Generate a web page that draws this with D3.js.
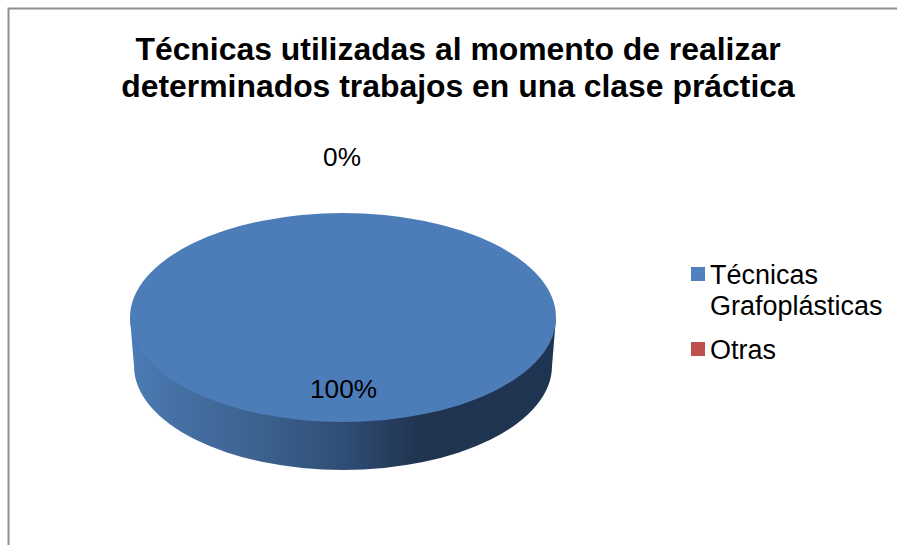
<!DOCTYPE html>
<html>
<head>
<meta charset="utf-8">
<script src="https://cdn.jsdelivr.net/npm/d3@7/dist/d3.min.js"></script>
<style>
html,body{margin:0;padding:0;background:#fff;overflow:hidden}
svg{display:block}
text{font-family:"Liberation Sans",Arial,sans-serif;fill:#000}
</style>
</head>
<body>
<svg id="c" width="897" height="545"></svg>
<script>
const titleLines = ["Técnicas utilizadas al momento de realizar", "determinados trabajos en una clase práctica"];
const categories = ["Técnicas Grafoplásticas", "Otras"];
const legendLines = [["Técnicas", "Grafoplásticas"], ["Otras"]];
const values = [100, 0];
const labels = ["100%", "0%"];
const colors = ["#4D7DB9", "#C0504D"];

const svg = d3.select("#c");
const W = 897, H = 545;

svg.append("rect").attr("width", W).attr("height", H).attr("fill", "#fff");
svg.append("path")
  .attr("d", `M${W},8.5H8.5V${H}`)
  .attr("fill", "none").attr("stroke", "#8f8f8f").attr("stroke-width", 2);

const title = svg.append("g").attr("font-weight", "bold").attr("font-size", 31.9).attr("text-anchor", "middle");
title.selectAll("text").data(titleLines).join("text")
  .attr("x", 458).attr("y", (d, i) => 59.5 + i * 37).text(d => d);

// pie geometry
const cx = 343, topCy = 317.5, rxTop = 213, ryTop = 104.5;
const rxBot = 209, ryBot = 104, botCy = 366;
const slices = d3.pie().sort(null).startAngle(0).endAngle(2 * Math.PI)(values);

const defs = svg.append("defs");
const grad = defs.append("linearGradient").attr("id", "wall")
  .attr("gradientUnits", "userSpaceOnUse")
  .attr("x1", cx - rxTop).attr("x2", cx + rxTop).attr("y1", 0).attr("y2", 0);
[[0, "#4c7cb6"], [0.12, "#456fa3"], [0.3, "#3c628f"], [0.5, "#2f4e75"], [0.68, "#20344f"], [1, "#1e3552"]]
  .forEach(s => grad.append("stop").attr("offset", s[0]).attr("stop-color", s[1]));

// side wall
const wallD = `M${cx - rxTop},${topCy}L${cx - rxBot},${botCy}` +
  `A${rxBot},${ryBot} 0 0 0 ${cx + rxBot},${botCy}` +
  `L${cx + rxTop},${topCy}Z`;
svg.append("path").attr("d", wallD).attr("fill", "url(#wall)");

// top face
const arc = d3.arc().innerRadius(0).outerRadius(rxTop);
svg.append("g").attr("transform", `translate(${cx},${topCy}) scale(1,${ryTop / rxTop})`)
  .selectAll("path").data(slices).join("path")
  .attr("d", arc).attr("fill", (d, i) => colors[i]);

// data labels
const labelPos = [[343.5, 397.5], [342, 166]];
svg.append("g").attr("font-size", 26.2).attr("text-anchor", "middle")
  .selectAll("text").data(labels).join("text")
  .attr("x", (d, i) => labelPos[i][0]).attr("y", (d, i) => labelPos[i][1]).text(d => d);

// legend
const legendTop = [267, 342];
const lg = svg.append("g").selectAll("g").data(categories).join("g");
lg.append("rect").attr("x", 691).attr("width", 14).attr("height", 14)
  .attr("y", (d, i) => legendTop[i]).attr("fill", (d, i) => i === 0 ? "#4F81BD" : colors[i]);
lg.each(function (d, i) {
  d3.select(this).selectAll("text").data(legendLines[i]).join("text")
    .attr("x", 710).attr("font-size", 27)
    .attr("y", (t, j) => legendTop[i] + 17 + j * 31).text(t => t);
});
</script>
</body>
</html>
